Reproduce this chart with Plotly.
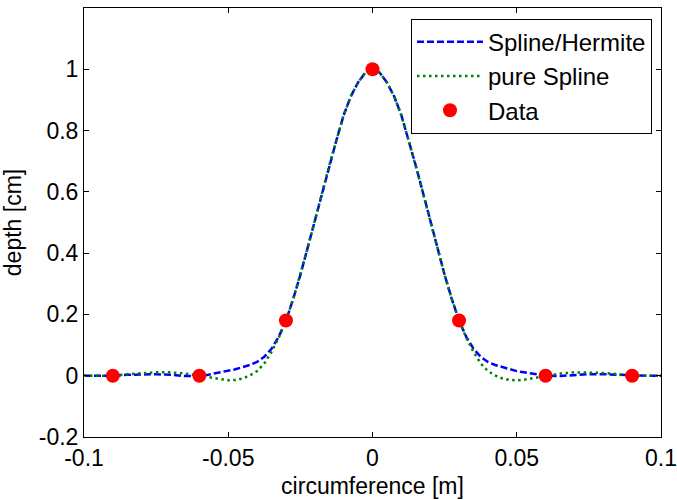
import plotly.graph_objects as go

# ---- data ----
x_curve = [-0.1, -0.095, -0.09, -0.085, -0.08, -0.075, -0.07, -0.065, -0.06,
           -0.0575, -0.055, -0.0525, -0.05, -0.0475, -0.045, -0.0425, -0.04,
           -0.0375, -0.035, -0.0325, -0.03, -0.0275, -0.025, -0.0225, -0.02,
           -0.0175, -0.015, -0.0125, -0.01, -0.0075, -0.005, -0.0025, 0.0,
           0.0025, 0.005, 0.0075, 0.01, 0.0125, 0.015, 0.0175, 0.02, 0.0225,
           0.025, 0.0275, 0.03, 0.0325, 0.035, 0.0375, 0.04, 0.0425, 0.045,
           0.0475, 0.05, 0.0525, 0.055, 0.0575, 0.06, 0.065, 0.07, 0.075,
           0.08, 0.085, 0.09, 0.095, 0.1]

hermite_y = [0.0, 0.0, 0.0, 0.003, 0.005, 0.005, 0.003, -0.001, 0.0,
             0.002, 0.007, 0.011, 0.015, 0.021, 0.028, 0.035, 0.045,
             0.062, 0.088, 0.127, 0.18, 0.25, 0.329, 0.416, 0.506,
             0.597, 0.686, 0.769, 0.85, 0.912, 0.957, 0.989, 1.0,
             0.989, 0.957, 0.912, 0.85, 0.769, 0.686, 0.597, 0.506, 0.416,
             0.329, 0.25, 0.18, 0.127, 0.088, 0.062, 0.045, 0.035, 0.028,
             0.021, 0.015, 0.011, 0.007, 0.002, 0.0, -0.001, 0.003, 0.005,
             0.005, 0.003, 0.0, 0.0, 0.0]

spline_y = [0.0, 0.0, 0.0, 0.005, 0.009, 0.011, 0.011, 0.007, 0.0,
            -0.004, -0.009, -0.013, -0.015, -0.014, -0.009, 0.001, 0.015,
            0.04, 0.078, 0.124, 0.18, 0.25, 0.329, 0.416, 0.506,
            0.597, 0.686, 0.769, 0.85, 0.912, 0.957, 0.989, 1.0,
            0.989, 0.957, 0.912, 0.85, 0.769, 0.686, 0.597, 0.506, 0.416,
            0.329, 0.25, 0.18, 0.124, 0.078, 0.04, 0.015, 0.001, -0.009,
            -0.014, -0.015, -0.013, -0.009, -0.004, 0.0, 0.007, 0.011, 0.011,
            0.009, 0.005, 0.0, 0.0, 0.0]

data_x = [-0.09, -0.06, -0.03, 0.0, 0.03, 0.06, 0.09]
data_y = [0.0, 0.0, 0.18, 1.0, 0.18, 0.0, 0.0]

x_ticks = [-0.1, -0.05, 0, 0.05, 0.1]
x_ticktext = ["-0.1", "-0.05", "0", "0.05", "0.1"]
y_ticks = [-0.2, 0, 0.2, 0.4, 0.6, 0.8, 1]
y_ticktext = ["-0.2", "0", "0.2", "0.4", "0.6", "0.8", "1"]

FONT = "Liberation Sans, Arial, sans-serif"
FS = 23

fig = go.Figure()
fig.add_trace(go.Scatter(x=x_curve, y=hermite_y, mode="lines", name="Spline/Hermite",
                         line=dict(color="#0000FF", width=2.5, dash="7px,3px")))
fig.add_trace(go.Scatter(x=x_curve, y=spline_y, mode="lines", name="pure Spline",
                         line=dict(color="#008000", width=2.5, dash="2.5px,3.5px")))
fig.add_trace(go.Scatter(x=data_x, y=data_y, mode="markers", name="Data",
                         marker=dict(color="#FF0000", size=14, line=dict(width=0))))

axis_common = dict(showline=True, linecolor="black", linewidth=1, mirror="ticks",
                   ticks="inside", ticklen=5, tickcolor="black", showgrid=False,
                   zeroline=False, tickfont=dict(family=FONT, size=FS, color="black"),
                   automargin=False)

fig.update_xaxes(range=[-0.1, 0.1], tickvals=x_ticks, ticktext=x_ticktext,
                 title=dict(text="circumference [m]", font=dict(family=FONT, size=FS, color="black"),
                            standoff=8),
                 **axis_common)
fig.update_yaxes(range=[-0.2, 1.2], tickvals=y_ticks, ticktext=y_ticktext,
                 title=dict(text="depth [cm]", font=dict(family=FONT, size=FS, color="black"),
                            standoff=10),
                 **axis_common)

fig.update_layout(
    width=677, height=500,
    margin=dict(l=84, r=16, t=8, b=63),
    plot_bgcolor="white", paper_bgcolor="white",
    font=dict(family=FONT, size=FS, color="black"),
    legend=dict(x=0.9844, y=0.975, xanchor="right", yanchor="top",
                bgcolor="white", bordercolor="black", borderwidth=1,
                itemwidth=66, font=dict(family=FONT, size=24, color="black"),
                tracegroupgap=0),
    showlegend=True,
)

fig.write_html("out.html", config={"displayModeBar": False},
               post_script="document.body.style.margin='0';document.body.style.padding='0';")
